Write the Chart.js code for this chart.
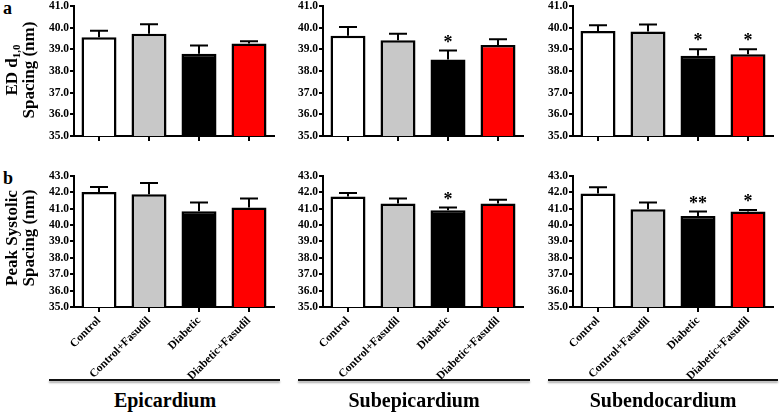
<!DOCTYPE html>
<html>
<head>
<meta charset="utf-8">
<script src="https://cdn.jsdelivr.net/npm/chart.js@4/dist/chart.umd.min.js"></script>
<style>
  html, body { margin: 0; padding: 0; background: #fff; }
  body { width: 784px; height: 413px; position: relative; overflow: hidden; font-family: 'Liberation Serif', 'Times New Roman', serif; }
  canvas { position: absolute; }
  .lbl { position: absolute; font-weight: bold; color: #000; }
  .ytitle { position: absolute; width: 140px; height: 34px; line-height: 17px; font-size: 17px; font-weight: bold; text-align: center; transform: rotate(-90deg); transform-origin: 50% 50%; white-space: nowrap; }
  .ytitle sub { font-size: 11px; vertical-align: -3px; line-height: 0; }
  .rule { position: absolute; height: 0; border-top: 2px solid #111; box-shadow: 0 2px 2px #aaa; }
  .grp { position: absolute; width: 200px; text-align: center; font-size: 20px; font-weight: bold; }
</style>
</head>
<body>
<canvas id="c0"></canvas>
<canvas id="c1"></canvas>
<canvas id="c2"></canvas>
<canvas id="c3"></canvas>
<canvas id="c4"></canvas>
<canvas id="c5"></canvas>

<div class="lbl" style="left:3px;top:-2px;font-size:18px;">a</div>
<div class="lbl" style="left:3px;top:168px;font-size:18px;">b</div>
<div class="ytitle" style="left:-50px;top:53px;">ED d<sub>1,0</sub><br>Spacing (nm)</div>
<div class="ytitle" style="left:-50px;top:221px;">Peak Systolic<br>Spacing (nm)</div>

<div class="rule" style="left:49px;top:379px;width:231px;"></div>
<div class="rule" style="left:298px;top:379px;width:232px;"></div>
<div class="rule" style="left:548px;top:379px;width:230px;"></div>
<div class="grp" style="left:65px;top:389px;">Epicardium</div>
<div class="grp" style="left:314px;top:389px;">Subepicardium</div>
<div class="grp" style="left:563px;top:389px;">Subendocardium</div>

<script>
// ---- data ----
const categories = ['Control', 'Control+Fasudil', 'Diabetic', 'Diabetic+Fasudil'];
const regions = ['Epicardium', 'Subepicardium', 'Subendocardium'];
const barColors = ['#ffffff', '#c8c8c8', '#000000', '#ff0000'];

// ED d1,0 spacing (nm), means and upper SEM
const edEpicardium = [39.55, 39.72, 38.80, 39.27];
const edEpicardiumErr = [0.30, 0.43, 0.38, 0.10];
const edEpicardiumSig = ['', '', '', ''];
const edSubepicardium = [39.63, 39.42, 38.53, 39.20];
const edSubepicardiumErr = [0.40, 0.30, 0.41, 0.26];
const edSubepicardiumSig = ['', '', '*', ''];
const edSubendocardium = [39.84, 39.82, 38.70, 38.77];
const edSubendocardiumErr = [0.27, 0.32, 0.30, 0.23];
const edSubendocardiumSig = ['', '', '*', '*'];

// Peak systolic spacing (nm)
const psEpicardium = [42.02, 41.88, 40.85, 41.07];
const psEpicardiumErr = [0.30, 0.68, 0.52, 0.55];
const psEpicardiumSig = ['', '', '', ''];
const psSubepicardium = [41.75, 41.32, 40.90, 41.32];
const psSubepicardiumErr = [0.20, 0.30, 0.17, 0.22];
const psSubepicardiumSig = ['', '', '*', ''];
const psSubendocardium = [41.92, 40.97, 40.55, 40.82];
const psSubendocardiumErr = [0.38, 0.40, 0.27, 0.10];
const psSubendocardiumSig = ['', '', '**', '*'];

const edTicks = { min: 35, max: 41, step: 1 };
const psTicks = { min: 35, max: 43, step: 1 };

// ---- drawing ----
const FONT = "'Liberation Serif', 'Times New Roman', serif";

const errorBarPlugin = {
  id: 'errorBars',
  afterDatasetsDraw(chart) {
    const ctx = chart.ctx;
    const ds = chart.data.datasets[0];
    const meta = chart.getDatasetMeta(0);
    const ys = chart.scales.y;
    ctx.save();
    ctx.strokeStyle = '#000';
    ctx.lineWidth = 2;
    meta.data.forEach((el, i) => {
      const v = ds.data[i];
      const top = ys.getPixelForValue(v + ds.errors[i]);
      ctx.beginPath();
      ctx.moveTo(el.x, el.y);
      ctx.lineTo(el.x, top);
      ctx.moveTo(el.x - 9, top);
      ctx.lineTo(el.x + 9, top);
      ctx.stroke();
      if (ds.sig[i]) {
        ctx.fillStyle = '#000';
        ctx.font = 'bold 18px ' + FONT;
        ctx.textAlign = 'center';
        ctx.textBaseline = 'alphabetic';
        ctx.fillText(ds.sig[i], el.x, top - 3);
      }
    });
    ctx.restore();
  }
};

function makeChart(id, left, top, height, values, errors, sig, range, showLabels) {
  const cv = document.getElementById(id);
  const w = 254;
  cv.width = w; cv.height = height;
  cv.style.left = left + 'px'; cv.style.top = top + 'px';
  cv.style.width = w + 'px'; cv.style.height = height + 'px';
  return new Chart(cv, {
    type: 'bar',
    data: {
      labels: categories,
      datasets: [{
        data: values,
        errors: errors,
        sig: sig,
        backgroundColor: barColors,
        borderColor: '#000',
        borderWidth: 2.5,
        barPercentage: 0.7,
        categoryPercentage: 1.0
      }]
    },
    options: {
      responsive: false,
      animation: false,
      devicePixelRatio: 1,
      layout: { padding: { left: 0, right: 6, top: 0, bottom: 0 } },
      plugins: { legend: { display: false }, tooltip: { enabled: false } },
      scales: {
        x: {
          afterFit: s => { s.height = showLabels ? 75 : 6; },
          grid: { display: true, drawOnChartArea: false, drawTicks: true, tickLength: 5, offset: false, color: '#000', lineWidth: 2 },
          border: { display: true, color: '#000', width: 2 },
          ticks: {
            display: showLabels,
            autoSkip: false,
            minRotation: 45, maxRotation: 45,
            padding: 2,
            color: '#000',
            font: { family: FONT, weight: 'bold', size: 11.5 }
          }
        },
        y: {
          min: range.min, max: range.max,
          afterFit: s => { s.width = 48; },
          grid: { display: true, drawOnChartArea: false, drawTicks: true, tickLength: 4, color: '#000', lineWidth: 2 },
          border: { display: true, color: '#000', width: 2 },
          ticks: {
            stepSize: range.step,
            autoSkip: false,
            padding: 1,
            color: '#000',
            font: { family: FONT, weight: 'bold', size: 11.5 },
            callback: v => Number(v).toFixed(1)
          }
        }
      }
    },
    plugins: [errorBarPlugin]
  });
}

const panelLefts = [74 - 48, 323 - 48, 573 - 48];
makeChart('c0', panelLefts[0], -2, 146, edEpicardium, edEpicardiumErr, edEpicardiumSig, edTicks, false);
makeChart('c1', panelLefts[1], -2, 146, edSubepicardium, edSubepicardiumErr, edSubepicardiumSig, edTicks, false);
makeChart('c2', panelLefts[2], -2, 146, edSubendocardium, edSubendocardiumErr, edSubendocardiumSig, edTicks, false);
makeChart('c3', panelLefts[0], 168, 214, psEpicardium, psEpicardiumErr, psEpicardiumSig, psTicks, true);
makeChart('c4', panelLefts[1], 168, 214, psSubepicardium, psSubepicardiumErr, psSubepicardiumSig, psTicks, true);
makeChart('c5', panelLefts[2], 168, 214, psSubendocardium, psSubendocardiumErr, psSubendocardiumSig, psTicks, true);
</script>
</body>
</html>
